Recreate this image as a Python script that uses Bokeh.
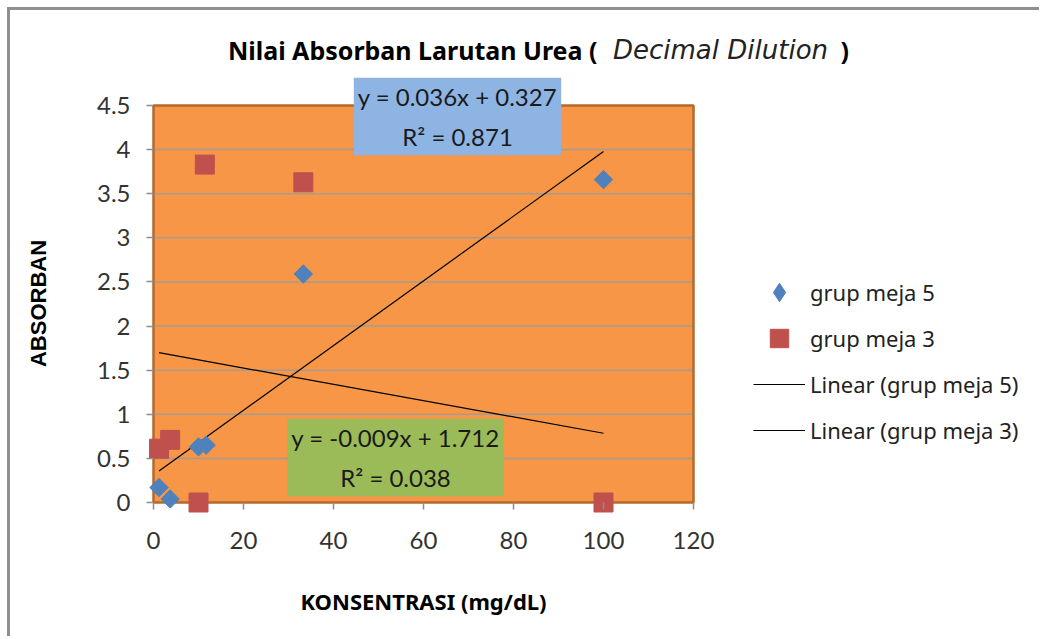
import numpy as np
from bokeh.plotting import figure
from bokeh.models import (ColumnDataSource, Label, Legend, LegendItem, FixedTicker,
                          Range1d)
from bokeh.embed import file_html
from bokeh.resources import INLINE

# ---- data ----
meja5_x = [1.23, 3.7, 10.0, 11.7, 33.3, 100.0]
meja5_y = [0.17, 0.04, 0.63, 0.65, 2.59, 3.66]
meja3_x = [1.23, 3.7, 10.0, 11.4, 33.3, 100.0]
meja3_y = [0.61, 0.71, 0.00, 3.83, 3.63, 0.00]
x_ticks = [0, 20, 40, 60, 80, 100, 120]
y_ticks = [0, 0.5, 1, 1.5, 2, 2.5, 3, 3.5, 4, 4.5]
x_lim = (0, 120)
y_lim = (0, 4.5)
eq_meja5 = "y = 0.036x + 0.327\nR\u00b2 = 0.871"
eq_meja3 = "y = -0.009x + 1.712\nR\u00b2 = 0.038"
title_main = "Nilai Absorban Larutan Urea ("
title_ital = "Decimal Dilution"
title_end = ")"
x_title = "KONSENTRASI (mg/dL)"
y_title = "ABSORBAN"
legend_labels = ["grup meja 5", "grup meja 3", "Linear (grup meja 5)", "Linear (grup meja 3)"]

FONT = "Lato"
WIDE = "Noto Sans"
BLUE, RED = "#4F81BD", "#C0504D"

# ---- layout (page pixels) ----
CANVAS_X0, CANVAS_Y0 = 10, 10
W, H = 1032, 629
AREA_L, AREA_R, AREA_T, AREA_B = 153, 693, 105, 502
sx = (AREA_R - AREA_L) / (x_lim[1] - x_lim[0])
sy = (AREA_B - AREA_T) / (y_lim[1] - y_lim[0])
xr = Range1d(x_lim[0] - (AREA_L - CANVAS_X0) / sx, x_lim[0] + (CANVAS_X0 + W - AREA_L) / sx)
yr = Range1d(y_lim[0] - (CANVAS_Y0 + H - AREA_B) / sy, y_lim[0] + (AREA_B - CANVAS_Y0) / sy)

def scr(px, py):
    """page pixel -> screen units relative to frame (x from left, y from bottom)"""
    return px - CANVAS_X0, (CANVAS_Y0 + H) - py

p = figure(width=W, height=H, output_backend="svg", toolbar_location=None,
           x_range=xr, y_range=yr, min_border=0)
p.styles = {"margin-left": "7px", "margin-top": "7px",
            "border-left": "3px solid #8f8f8f", "border-top": "3px solid #8f8f8f"}
p.background_fill_color = "white"
p.border_fill_color = "white"
p.outline_line_color = None
p.xgrid.visible = False
p.ygrid.visible = False

# orange plot area
p.quad(left=[x_lim[0]], right=[x_lim[1]], bottom=[y_lim[0]], top=[y_lim[1]],
       fill_color="#F79646", line_color=None)
# horizontal gridlines at the y ticks, spanning the plot area only
gy = y_ticks[1:-1]
p.segment(x0=[x_lim[0]] * len(gy), x1=[x_lim[1]] * len(gy), y0=gy, y1=gy,
          line_color="#A39C93", line_width=1.5)
p.quad(left=[x_lim[0]], right=[x_lim[1]], bottom=[y_lim[0]], top=[y_lim[1]],
       fill_color=None, line_color="#B5692B", line_width=2.5)

for ax in (p.xaxis[0], p.yaxis[0]):
    ax.fixed_location = 0
    ax.axis_line_color = None
    ax.major_tick_line_color = "#8C8C8C"
    ax.major_tick_line_width = 1.5
    ax.major_tick_out = 7
    ax.major_tick_in = 0
    ax.minor_tick_line_color = None
    ax.major_label_text_font = FONT
    ax.major_label_text_font_size = "24px"
    ax.major_label_text_color = "#333333"

p.xaxis.ticker = FixedTicker(ticks=x_ticks)
p.yaxis.ticker = FixedTicker(ticks=y_ticks)
p.xaxis.bounds = x_lim
p.yaxis.bounds = y_lim
p.yaxis.major_label_overrides = {t: ("%g" % t) for t in y_ticks}
p.xaxis.major_label_standoff = 22
p.yaxis.major_label_standoff = 16

# axis titles
x0, y0 = scr(423, 600)
p.add_layout(Label(x=x0, y=y0, x_units="screen", y_units="screen", text=x_title,
                   text_align="center", text_baseline="middle", text_font=WIDE,
                   text_font_style="bold", text_font_size="22px", text_color="black"))
x0, y0 = scr(38, 303)
p.add_layout(Label(x=x0, y=y0, x_units="screen", y_units="screen", text=y_title,
                   angle=np.pi / 2, text_align="center", text_baseline="middle",
                   text_font="Liberation Sans", text_font_style="bold",
                   text_font_size="22px", text_color="black"))

# trendlines from least squares fits of the data
def trend(xs, ys):
    m, b = np.polyfit(xs, ys, 1)
    xx = np.array([min(xs), max(xs)])
    return xx, m * xx + b

t5x, t5y = trend(meja5_x, meja5_y)
t3x, t3y = trend(meja3_x, meja3_y)
l5 = p.line(t5x, t5y, line_color="black", line_width=1.2)
l3 = p.line(t3x, t3y, line_color="black", line_width=1.2)

s5 = ColumnDataSource(dict(x=meja5_x, y=meja5_y))
s3 = ColumnDataSource(dict(x=meja3_x, y=meja3_y))
# diamond-shaped key for the legend (lies hidden under the plotted diamonds)
r5_key = p.scatter("x", "y", source=s5, marker="diamond", size=11,
                   fill_color=BLUE, line_color=BLUE)
r5 = p.scatter("x", "y", source=s5, marker="square", angle=np.pi / 4, size=13,
               fill_color=BLUE, line_color=BLUE)
r3 = p.scatter("x", "y", source=s3, marker="square", size=19,
               fill_color=RED, line_color=RED)

# equation boxes
for txt, (cx, cy), bg in [(eq_meja5, (457, 116), "#8EB4E3"),
                          (eq_meja3, (395, 457), "#9BBB59")]:
    x0, y0 = scr(cx, cy)
    p.add_layout(Label(x=x0, y=y0, x_units="screen", y_units="screen", text=txt,
                       text_align="center", text_baseline="middle",
                       text_font=FONT, text_font_size="24px", text_color="#1a1a1a",
                       text_line_height=1.4, background_fill_color=bg, padding=4))

# title pieces
x0, y0 = scr(597, 49)
p.add_layout(Label(x=x0, y=y0, x_units="screen", y_units="screen", text=title_main,
                   text_align="right", text_baseline="alphabetic", text_font=WIDE,
                   text_font_style="bold", text_font_size="25px", text_color="black"))
x0, y0 = scr(720, 49)
p.add_layout(Label(x=x0, y=y0, x_units="screen", y_units="screen", text=title_ital,
                   text_align="center", text_baseline="alphabetic", text_font="DejaVu Sans",
                   text_font_style="italic", text_font_size="26px", text_color="#222222"))
x0, y0 = scr(840, 49)
p.add_layout(Label(x=x0, y=y0, x_units="screen", y_units="screen", text=title_end,
                   text_align="left", text_baseline="alphabetic", text_font=WIDE,
                   text_font_style="bold", text_font_size="25px", text_color="black"))

lx, ly = scr(753, 453)
legend = Legend(items=[LegendItem(label=legend_labels[0], renderers=[r5_key]),
                       LegendItem(label=legend_labels[1], renderers=[r3]),
                       LegendItem(label=legend_labels[2], renderers=[l5]),
                       LegendItem(label=legend_labels[3], renderers=[l3])],
                location=(lx, ly), glyph_width=52, glyph_height=46, label_height=46,
                spacing=0, padding=0, margin=0, label_standoff=5,
                border_line_color=None, background_fill_alpha=0,
                label_text_font=WIDE, label_text_font_size="22px",
                label_text_color="#222222")
p.add_layout(legend, "center")

open("out.html", "w").write(file_html(p, INLINE))
